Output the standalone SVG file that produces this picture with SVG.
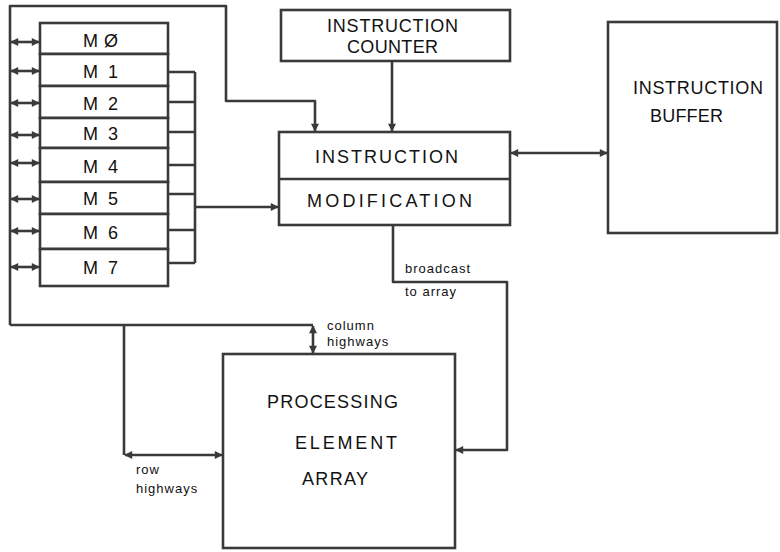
<svg xmlns="http://www.w3.org/2000/svg" width="780" height="552" viewBox="0 0 780 552">
  <style>
    .box { fill: #fff; stroke: #3a3a3a; stroke-width: 2.6; }
    .wire { fill: none; stroke: #3a3a3a; stroke-width: 2.6; stroke-linejoin: round; }
    .big { font-family: "Liberation Sans", Arial, sans-serif; font-size: 18px; fill: #111; }
    .mem { font-family: "Liberation Sans", Arial, sans-serif; font-size: 18px; fill: #111; }
    .small { font-family: "Liberation Sans", Arial, sans-serif; font-size: 13px; fill: #111; letter-spacing: 1px; }
  </style>
  <defs>
    <marker id="head" viewBox="0 0 10 10" refX="9" refY="5" markerWidth="9" markerHeight="8" markerUnits="userSpaceOnUse" orient="auto-start-reverse">
      <path d="M0,0 L10,5 L0,10 Z" fill="#3a3a3a"/>
    </marker>
  </defs>
  <rect width="780" height="552" fill="#fff"/>

  <!-- memory modules -->
  <g id="m0"><rect class="box" x="40" y="23" width="128" height="31"/><text class="mem" x="83" y="47" textLength="35" lengthAdjust="spacing">M Ø</text></g>
  <g id="m1"><rect class="box" x="40" y="54" width="128" height="32"/><text class="mem" x="83" y="78" textLength="35" lengthAdjust="spacing">M 1</text></g>
  <g id="m2"><rect class="box" x="40" y="86" width="128" height="32"/><text class="mem" x="83" y="110" textLength="35" lengthAdjust="spacing">M 2</text></g>
  <g id="m3"><rect class="box" x="40" y="118" width="128" height="30"/><text class="mem" x="83" y="140" textLength="35" lengthAdjust="spacing">M 3</text></g>
  <g id="m4"><rect class="box" x="40" y="148" width="128" height="34"/><text class="mem" x="83" y="173" textLength="35" lengthAdjust="spacing">M 4</text></g>
  <g id="m5"><rect class="box" x="40" y="182" width="128" height="32"/><text class="mem" x="83" y="205" textLength="35" lengthAdjust="spacing">M 5</text></g>
  <g id="m6"><rect class="box" x="40" y="214" width="128" height="35"/><text class="mem" x="83" y="239" textLength="35" lengthAdjust="spacing">M 6</text></g>
  <g id="m7"><rect class="box" x="40" y="249" width="128" height="37"/><text class="mem" x="83" y="274" textLength="35" lengthAdjust="spacing">M 7</text></g>

  <!-- instruction counter -->
  <g id="instruction-counter">
    <rect class="box" x="281" y="10" width="229" height="51"/>
    <text class="big" x="327" y="32" textLength="131" lengthAdjust="spacing">INSTRUCTION</text>
    <text class="big" x="347" y="53" textLength="91" lengthAdjust="spacing">COUNTER</text>
  </g>

  <!-- instruction modification -->
  <g id="instruction-modification">
    <rect class="box" x="279" y="132" width="231" height="93"/>
    <line class="wire" x1="279" y1="179" x2="510" y2="179"/>
    <text class="big" x="315" y="163" textLength="143" lengthAdjust="spacing">INSTRUCTION</text>
    <text class="big" x="307" y="207" textLength="165" lengthAdjust="spacing">MODIFICATION</text>
  </g>

  <!-- instruction buffer -->
  <g id="instruction-buffer">
    <rect class="box" x="608" y="22" width="169" height="211"/>
    <text class="big" x="633" y="94" textLength="130" lengthAdjust="spacing">INSTRUCTION</text>
    <text class="big" x="650" y="122" textLength="73" lengthAdjust="spacing">BUFFER</text>
  </g>

  <!-- processing element array -->
  <g id="processing-element-array">
    <rect class="box" x="223" y="354" width="232" height="194"/>
    <text class="big" x="267" y="408" textLength="131" lengthAdjust="spacing">PROCESSING</text>
    <text class="big" x="295" y="449" textLength="102" lengthAdjust="spacing">ELEMENT</text>
    <text class="big" x="302" y="485" textLength="66" lengthAdjust="spacing">ARRAY</text>
  </g>

  <!-- connectors -->
  <g id="connectors">
    <!-- left bus to the modification unit -->
    <path class="wire" d="M10,325 L10,6 L226,6 L226,101 L315,101 L315,131" marker-end="url(#head)"/>
    <!-- memory bus stubs -->
    <line class="wire" x1="11" y1="42" x2="39" y2="42" marker-start="url(#head)" marker-end="url(#head)"/>
    <line class="wire" x1="11" y1="71" x2="39" y2="71" marker-start="url(#head)" marker-end="url(#head)"/>
    <line class="wire" x1="11" y1="103" x2="39" y2="103" marker-start="url(#head)" marker-end="url(#head)"/>
    <line class="wire" x1="11" y1="135" x2="39" y2="135" marker-start="url(#head)" marker-end="url(#head)"/>
    <line class="wire" x1="11" y1="163" x2="39" y2="163" marker-start="url(#head)" marker-end="url(#head)"/>
    <line class="wire" x1="11" y1="199" x2="39" y2="199" marker-start="url(#head)" marker-end="url(#head)"/>
    <line class="wire" x1="11" y1="231" x2="39" y2="231" marker-start="url(#head)" marker-end="url(#head)"/>
    <line class="wire" x1="11" y1="267" x2="39" y2="267" marker-start="url(#head)" marker-end="url(#head)"/>
    <!-- M1..M7 combined into the modification unit -->
    <path class="wire" d="M168,72 H195 M168,102 H195 M168,132 H195 M168,165 H195 M168,194 H195 M168,230 H195 M168,263 H195 M195,72 V263"/>
    <path class="wire" d="M195,207 H278" marker-end="url(#head)"/>
    <!-- counter to modification -->
    <path class="wire" d="M392,61 V131" marker-end="url(#head)"/>
    <!-- modification to buffer -->
    <line class="wire" x1="511" y1="153" x2="607" y2="153" marker-start="url(#head)" marker-end="url(#head)"/>
    <!-- broadcast to array -->
    <path class="wire" d="M393,225 V282 H507 V450 H456" marker-end="url(#head)"/>
    <!-- bus to the array -->
    <path class="wire" d="M10,325 H313"/>
    <line class="wire" x1="313" y1="326" x2="313" y2="353" marker-start="url(#head)" marker-end="url(#head)"/>
    <path class="wire" d="M124,325 V455"/>
    <line class="wire" x1="125" y1="455" x2="222" y2="455" marker-start="url(#head)" marker-end="url(#head)"/>
  </g>

  <!-- connector labels -->
  <g id="labels">
    <text class="small" x="405" y="273">broadcast</text>
    <text class="small" x="405" y="296">to array</text>
    <text class="small" x="327" y="330">column</text>
    <text class="small" x="327" y="346">highways</text>
    <text class="small" x="136" y="474">row</text>
    <text class="small" x="136" y="493">highways</text>
  </g>
</svg>
